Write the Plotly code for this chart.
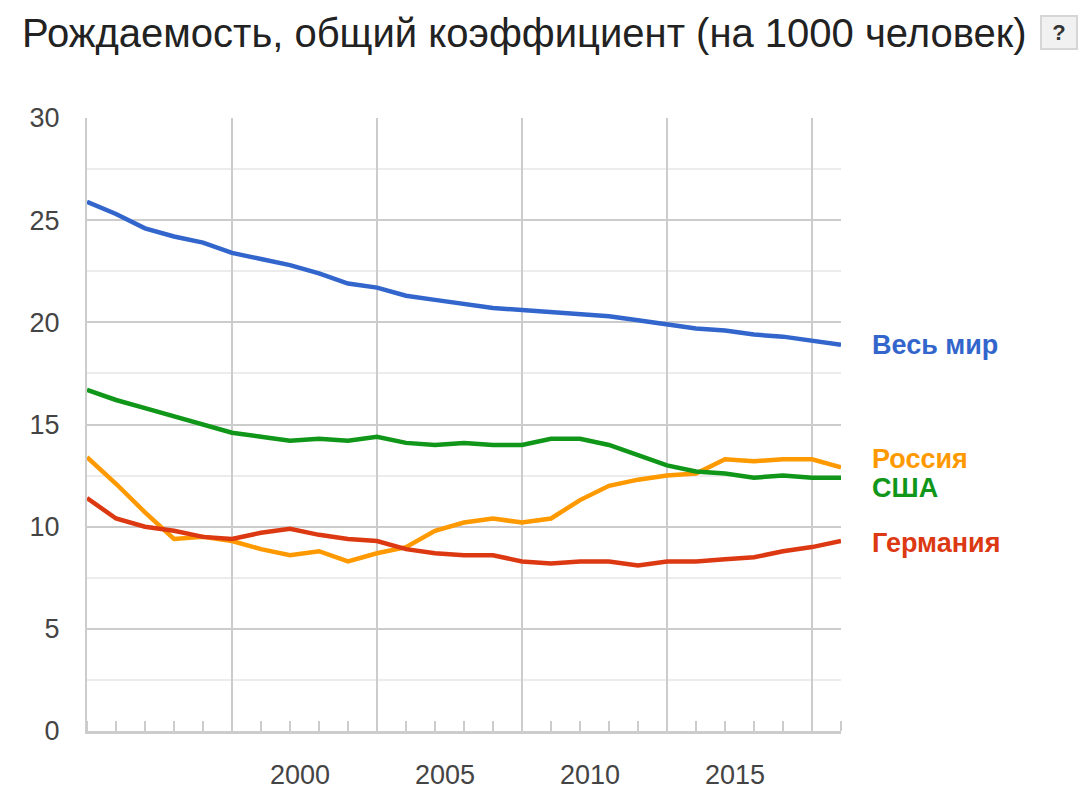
import plotly.graph_objects as go

years = list(range(1990, 2017))

world = [25.9, 25.3, 24.6, 24.2, 23.9, 23.4, 23.1, 22.8, 22.4, 21.9, 21.7, 21.3, 21.1, 20.9,
         20.7, 20.6, 20.5, 20.4, 20.3, 20.1, 19.9, 19.7, 19.6, 19.4, 19.3, 19.1, 18.9]
russia = [13.4, 12.1, 10.7, 9.4, 9.5, 9.3, 8.9, 8.6, 8.8, 8.3, 8.7, 9.0, 9.8, 10.2,
          10.4, 10.2, 10.4, 11.3, 12.0, 12.3, 12.5, 12.6, 13.3, 13.2, 13.3, 13.3, 12.9]
usa = [16.7, 16.2, 15.8, 15.4, 15.0, 14.6, 14.4, 14.2, 14.3, 14.2, 14.4, 14.1, 14.0, 14.1,
       14.0, 14.0, 14.3, 14.3, 14.0, 13.5, 13.0, 12.7, 12.6, 12.4, 12.5, 12.4, 12.4]
germany = [11.4, 10.4, 10.0, 9.8, 9.5, 9.4, 9.7, 9.9, 9.6, 9.4, 9.3, 8.9, 8.7, 8.6,
           8.6, 8.3, 8.2, 8.3, 8.3, 8.1, 8.3, 8.3, 8.4, 8.5, 8.8, 9.0, 9.3]

series_names = ["Весь мир", "Россия", "США", "Германия"]
series_values = [world, russia, usa, germany]
series_colors = ["#3366cc", "#ff9900", "#109618", "#dc3912"]
label_yshift = [0, 8, -10, -2]

grid_years = [1995, 2000, 2005, 2010, 2015]
grid_labels = ["", "2000", "2005", "2010", "2015"]

title_text = "Рождаемость, общий коэффициент (на 1000 человек)"
FONT = "Liberation Sans, Arial, sans-serif"

# plot area (figure pixels; page adds an 8px body margin)
ML, MT, MR, MB = 79, 110, 256, 70
W, H = 1089, 793
PW, PH = W - ML - MR, H - MT - MB

fig = go.Figure()
for name, vals, col in zip(series_names, series_values, series_colors):
    fig.add_trace(go.Scatter(x=years, y=vals, mode="lines", name=name,
                             line=dict(color=col, width=4.5), showlegend=False,
                             hoverinfo="skip"))

for name, vals, col, ys in zip(series_names, series_values, series_colors, label_yshift):
    fig.add_annotation(x=years[-1], y=vals[-1], xref="x", yref="y", text="<b>%s</b>" % name,
                       showarrow=False, xanchor="left", yanchor="middle", xshift=29, yshift=ys,
                       font=dict(family=FONT, size=27, color=col))

# help button "?"
fig.add_annotation(xref="paper", yref="paper",
                   x=(1051 - ML) / PW, y=(H - MB - 25) / PH,
                   xanchor="center", yanchor="middle", text="<b>?</b>", showarrow=False,
                   font=dict(family=FONT, size=22, color="#333"),
                   bgcolor="#f1f1f1", bordercolor="#d6d6d6", borderwidth=2, borderpad=1,
                   width=32, height=29)

fig.update_layout(
    width=W, height=H,
    margin=dict(l=ML, r=MR, t=MT, b=MB, autoexpand=False),
    paper_bgcolor="white", plot_bgcolor="white",
    font=dict(family=FONT, color="#444"),
    title=dict(text=title_text, x=14 / W, xanchor="left", xref="container",
               y=1 - 25 / H, yanchor="middle", yref="container",
               font=dict(family=FONT, size=40, color="#222")),
    xaxis=dict(range=[years[0], years[-1]], tickmode="array", tickvals=grid_years,
               ticktext=grid_labels, ticks="", showgrid=True, gridcolor="#cccccc", gridwidth=2,
               showline=True, linecolor="#cccccc", linewidth=3, zeroline=False,
               automargin=False,
               ticklabelshift=-77, ticklabelstandoff=18,
               tickfont=dict(family=FONT, size=27, color="#444"),
               minor=dict(tick0=1990, dtick=1, ticks="inside", ticklen=10, tickwidth=2,
                          tickcolor="#cccccc", showgrid=False)),
    yaxis=dict(range=[0, 30], dtick=5, tick0=0, showgrid=True, gridcolor="#cccccc", gridwidth=2,
               showline=True, linecolor="#cccccc", linewidth=2, zeroline=False,
               automargin=False,
               ticks="", ticklabelstandoff=20,
               tickfont=dict(family=FONT, size=27, color="#444"),
               minor=dict(dtick=2.5, showgrid=True, gridcolor="#ececec", gridwidth=2)),
)

fig.write_html("out.html")
